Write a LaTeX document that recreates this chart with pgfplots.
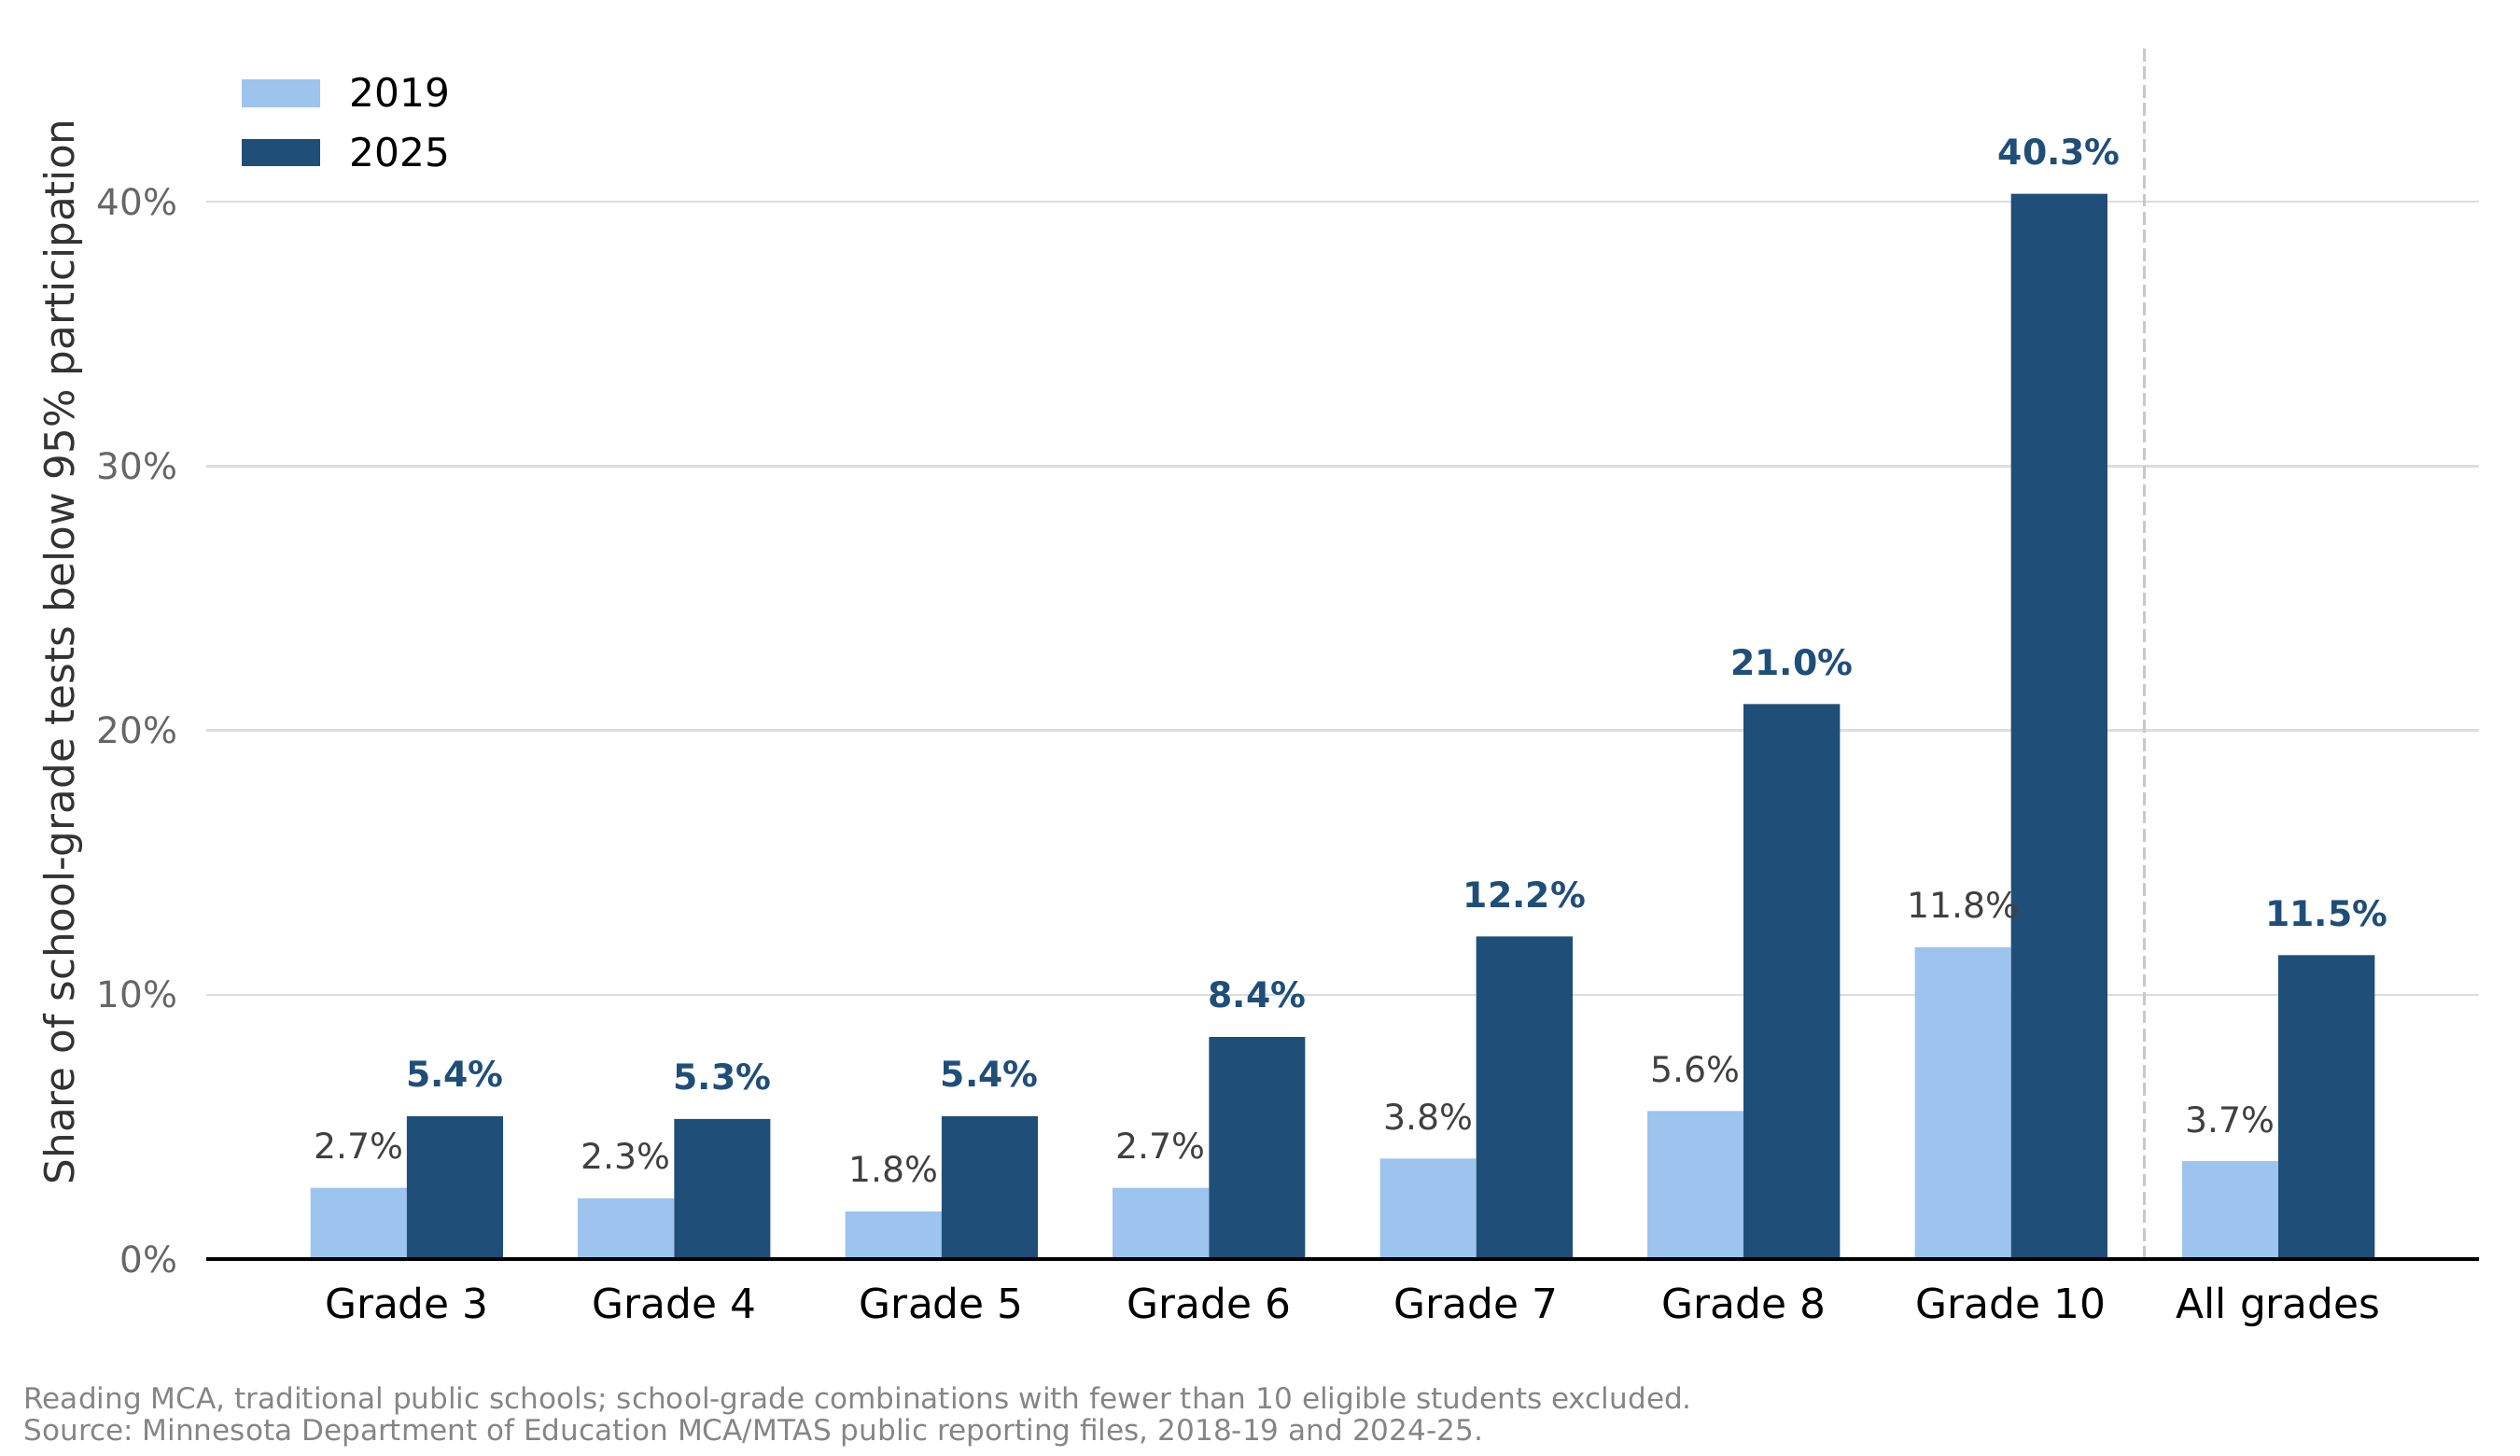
\documentclass[border=0pt]{standalone}
\usepackage{fontspec}
\setmainfont{DejaVu Sans}
\usepackage{pgfplots}
\pgfplotsset{compat=1.18}
\frenchspacing
\definecolor{lightb}{HTML}{9DC3EF}
\definecolor{darkb}{HTML}{1F4E79}
\definecolor{gridc}{HTML}{DDDDDD}
\definecolor{dashc}{HTML}{C8C8C8}
\definecolor{ticklab}{HTML}{666666}
\definecolor{barlab}{HTML}{404040}
\definecolor{ylab}{HTML}{333333}
\definecolor{footc}{HTML}{858585}
\begin{document}
\begin{tikzpicture}
\useasboundingbox (0,0) rectangle (972pt,561.6pt);
\begin{axis}[
  at={(79.56pt,75.96pt)}, anchor=south west,
  scale only axis, width=876.6pt, height=468.36pt,
  xmin=-0.75, xmax=7.75, ymin=0, ymax=45.94,
  clip=false,
  ybar, bar width=0.36,
  axis line style={draw=none},
  tick style={draw=none}, major tick length=0pt,
  /pgf/number format/assume math mode=true,
  ytick={0,10,20,30,40},
  yticklabel={\pgfmathprintnumber{\tick}\%},
  yticklabel style={font=\fontsize{14}{16}\selectfont, text=ticklab, inner sep=0pt, anchor=east, xshift=-10.9pt},
  xtick={0,1,2,3,4,5,6,7},
  xticklabels={Grade 3, Grade 4, Grade 5, Grade 6, Grade 7, Grade 8, Grade 10, All grades},
  xticklabel style={font=\fontsize{15.8}{19}\selectfont, text=black, inner sep=0pt, anchor=north, yshift=-10.7pt},
  ymajorgrids, grid style={color=gridc, line width=0.9pt},
  ylabel={Share of school-grade tests below 95\% participation},
  ylabel style={at={(axis description cs:-0.05795,0.5)}, anchor=base, rotate=0, inner sep=0pt, font=\fontsize{15.7}{19}\selectfont, text=ylab},
  legend style={at={(axis description cs:0,1)}, anchor=north west, xshift=13.8pt, yshift=-12.8pt,
    draw=none, fill=none, inner sep=0pt, outer sep=0pt, row sep=11.6pt, column sep=11.6pt,
    nodes={inner sep=0pt, text depth=0pt}, cells={anchor=west},
    font=\fontsize{15.2}{18}\selectfont},
  legend image code/.code={\fill[#1] (0pt,-5.6pt) rectangle (30pt,5.1pt);},
  every node near coord/.append style={anchor=base, yshift=11.2pt},
]
\draw[dashc, line width=1.1pt, dash pattern=on 4.9pt off 2.1pt] (axis cs:6.5,0) -- (axis cs:6.5,45.94);
\addplot[fill=lightb, draw=none, bar shift=-0.18,
  nodes near coords={\pgfmathprintnumber[fixed,fixed zerofill,precision=1]{\pgfplotspointmeta}\%},
  nodes near coords style={font=\fontsize{13.6}{16}\selectfont, text=barlab}]
  coordinates {(0,2.7) (1,2.3) (2,1.8) (3,2.7) (4,3.8) (5,5.6) (6,11.8) (7,3.7)};
\addlegendentry{2019}
\addplot[fill=darkb, draw=none, bar shift=0.18,
  nodes near coords={\pgfmathprintnumber[fixed,fixed zerofill,precision=1]{\pgfplotspointmeta}\%},
  nodes near coords style={font=\fontsize{13.6}{16}\selectfont\bfseries, text=darkb}]
  coordinates {(0,5.4) (1,5.3) (2,5.4) (3,8.4) (4,12.2) (5,21.0) (6,40.3) (7,11.5)};
\addlegendentry{2025}
\draw[black, line width=1.3pt] (rel axis cs:0,0) -- (rel axis cs:1,0);
\end{axis}
\node[anchor=base west, inner sep=0pt, font=\fontsize{11.2}{13}\selectfont, text=footc] at (9.0pt,18pt) {Reading MCA, traditional public schools; school-grade combinations with fewer than 10 eligible students excluded.};
\node[anchor=base west, inner sep=0pt, font=\fontsize{11.2}{13}\selectfont, text=footc] at (9.0pt,6.1pt) {Source: Minnesota Department of Education MCA/MTAS public reporting files, 2018-19 and 2024-25.};
\end{tikzpicture}
\end{document}
